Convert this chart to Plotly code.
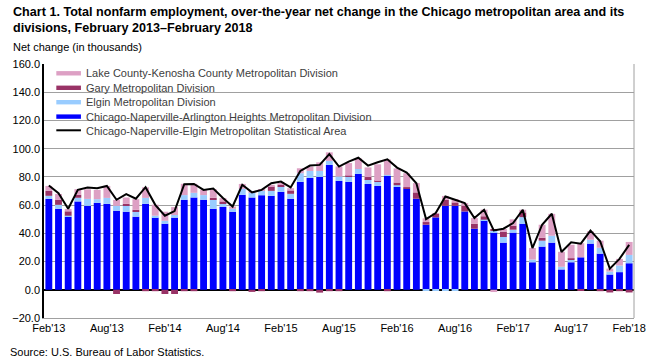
import plotly.graph_objects as go

years = ["13", "14", "15", "16", "17", "18"]
mnames = ["Jan", "Feb", "Mar", "Apr", "May", "Jun", "Jul", "Aug", "Sep", "Oct", "Nov", "Dec"]
months = []
for yi, y in enumerate(years):
    for mi, m in enumerate(mnames):
        if (yi == 0 and mi < 1) or (yi == 5 and mi > 1):
            continue
        months.append(f"{m}'{y}")

chicago = [64.5, 57.4, 51.8, 62.6, 59.5, 61.6, 60.9, 56.0, 55.3, 51.8, 60.9, 51.1, 46.8, 51.1, 63.8,
           65.4, 63.8, 57.4, 58.8, 55.3, 67.3, 65.4, 67.0, 66.6, 69.4, 64.5, 76.5, 79.3, 80.0, 88.5,
           77.2, 76.5, 82.1, 75.0, 73.6, 80.7, 72.9, 71.5, 64.5, 46.1, 51.3, 59.5, 59.5, 55.5, 43.3,
           49.2, 40.7, 33.4, 40.5, 46.8, 19.5, 30.6, 33.4, 14.4, 19.5, 23.0, 32.7, 25.6, 10.8, 12.5, 18.8]
elgin = [2.1, 2.8, 0.7, 2.6, 4.9, 2.6, 4.2, 3.5, 4.7, 3.5, 4.2, 1.4, 2.1, 1.9, 3.3,
         3.3, 3.3, 6.4, 2.6, 2.1, 4.2, 3.3, 3.1, 3.5, 3.8, 3.5, 6.1, 4.9, 4.2, 2.8,
         3.1, 3.8, 3.5, 3.5, 2.8, 0.7, 1.2, 0.5, 0.0, -0.5, -0.5, -0.5, -0.5, 0.0, 0.0,
         0.5, 1.2, 4.0, 2.1, 4.7, 1.9, 4.2, 4.9, 1.9, 1.9, 0.0, 2.8, 4.2, 2.1, 4.7, 5.9]
gary = [3.5, 3.5, 3.1, 2.1, 0.0, 0.0, 0.0, -3.0, 0.9, 1.4, -1.0, -1.0, -3.0, -3.0, -1.0,
        -1.0, 0.0, 1.4, 1.2, -1.0, 0.0, -1.5, -1.0, 3.1, 1.2, 2.4, -1.0, -1.0, -2.0, -1.0,
        -1.0, 0.5, 0.0, 1.4, 0.7, -1.0, 1.9, 0.7, 4.5, 1.9, 2.4, 4.2, 2.4, 4.0, 3.5,
        2.4, 1.2, 3.8, 2.8, 3.3, 0.0, 2.1, 0.0, 0.0, 0.9, -0.7, 0.0, -1.0, -1.9, -1.0, -1.9]
lake = [3.5, 4.2, 1.6, 4.0, 6.8, 6.6, 8.5, 4.2, 4.5, 7.5, 7.5, 7.8, 6.4, 5.6, 8.0,
        6.4, 3.8, 6.1, 2.4, 1.6, 3.5, 0.7, 0.7, 1.2, 1.2, 1.6, 3.5, 3.1, 6.1, 6.1,
        7.1, 9.0, 7.5, 6.8, 11.8, 11.0, 10.0, 9.9, 6.6, 2.6, 0.7, 2.8, 2.4, 1.9, 4.0,
        4.7, -1.6, 1.9, 4.5, 1.9, 8.2, 9.2, 15.5, 10.6, 9.6, 10.0, 5.9, 5.0, 2.1, 4.7, 9.2]
msa = [73.9, 68.5, 57.4, 70.8, 72.5, 72.0, 73.6, 63.8, 67.8, 64.5, 72.7, 60.2, 52.5, 55.8, 74.8,
       75.0, 70.8, 71.8, 65.0, 59.0, 74.4, 69.0, 70.8, 75.5, 76.7, 72.5, 84.2, 88.0, 88.5, 96.2,
       87.3, 90.8, 93.6, 88.0, 90.4, 92.5, 86.6, 83.0, 75.5, 50.1, 54.4, 66.1, 63.8, 61.4, 50.8,
       56.7, 42.1, 43.3, 47.3, 56.7, 29.6, 46.1, 53.9, 26.8, 33.6, 32.7, 41.9, 34.4, 15.0, 21.9, 31.8]

tick_labels = months[::6]
y_ticks = list(range(-20, 161, 20))

font = "Arial, Liberation Sans, sans-serif"
W, H = 658, 361
L, R, T, B = 38, 21, 64, 43
PW, PH = W - L - R, H - T - B


def px(x):
    return (x - L) / PW


def py(y):
    return (H - B - y) / PH


fig = go.Figure()
series = [
    ("Chicago-Naperville-Arlington Heights Metropolitan Division", chicago, "#0000FF"),
    ("Elgin Metropolitan Division", elgin, "#99CCFF"),
    ("Gary Metropolitan Division", gary, "#993366"),
    ("Lake County-Kenosha County Metropolitan Division", lake, "#DDA0C4"),
]
for name, vals, col in series:
    fig.add_trace(go.Bar(x=months, y=vals, name=name, marker_color=col,
                         marker_line_width=0, showlegend=False))
line_name = "Chicago-Naperville-Elgin Metropolitan Statistical Area"
fig.add_trace(go.Scatter(x=months, y=msa, name=line_name, mode="lines",
                         line=dict(color="black", width=2), showlegend=False))

fig.update_layout(
    width=W, height=H,
    margin=dict(l=L, r=R, t=T, b=B),
    barmode="relative", bargap=0.29,
    plot_bgcolor="white", paper_bgcolor="white",
    font=dict(family=font, size=11, color="black"),
    showlegend=False,
    xaxis=dict(type="category", tickmode="array", tickvals=tick_labels, ticktext=tick_labels,
               range=[-0.5, len(months) - 0.5], showgrid=False, ticks="",
               showline=True, linecolor="#A0A0A0", mirror=False, tickfont=dict(size=11)),
    yaxis=dict(range=[-20, 160], tickvals=y_ticks, tickformat=".1f", showgrid=True,
               gridcolor="#A0A0A0", gridwidth=1, zeroline=True, zerolinecolor="black",
               zerolinewidth=1.5, showline=True, linecolor="black", linewidth=1.5, ticks="",
               tickfont=dict(size=11)),
)
fig.add_shape(type="line", xref="paper", yref="paper", x0=1, x1=1, y0=0, y1=1,
              line=dict(color="#A0A0A0", width=1))

# manual legend (order as in reference)
legend_items = [
    (series[3][0], series[3][2], "bar", 73.3),
    (series[2][0], series[2][2], "bar", 87.8),
    (series[1][0], series[1][2], "bar", 102.2),
    (series[0][0], series[0][2], "bar", 116.6),
    (line_name, "black", "line", 131.0),
]
for name, col, kind, yc in legend_items:
    if kind == "bar":
        fig.add_shape(type="rect", xref="paper", yref="paper", x0=px(50.5), x1=px(75.5),
                      y0=py(yc + 2.2), y1=py(yc - 2.2), fillcolor=col, line_width=0)
    else:
        fig.add_shape(type="line", xref="paper", yref="paper", x0=px(50.5), x1=px(75.5),
                      y0=py(yc - 0.7), y1=py(yc - 0.7), line=dict(color=col, width=2))
    fig.add_annotation(text=name, xref="paper", yref="paper", x=px(79), y=py(yc),
                       xanchor="left", yanchor="middle", showarrow=False,
                       font=dict(size=11, color="#404040"))

fig.add_annotation(text="<b>Chart 1. Total nonfarm employment, over-the-year net change in the Chicago metropolitan area and its<br>divisions, February 2013\u2013February 2018</b>",
                   xref="paper", yref="paper", x=px(4), y=py(3), xanchor="left", yanchor="top",
                   align="left", showarrow=False, font=dict(size=12.6, color="black"))
fig.add_annotation(text="Net change (in thousands)", xref="paper", yref="paper",
                   x=px(4), y=py(47), xanchor="left", yanchor="middle",
                   showarrow=False, font=dict(size=11))
fig.add_annotation(text="Source: U.S. Bureau of Labor Statistics.", xref="paper", yref="paper",
                   x=px(1), y=py(352), xanchor="left", yanchor="middle",
                   showarrow=False, font=dict(size=11))
fig.write_html("out.html", config={"displayModeBar": False},
               post_script="document.body.style.margin='0';")
